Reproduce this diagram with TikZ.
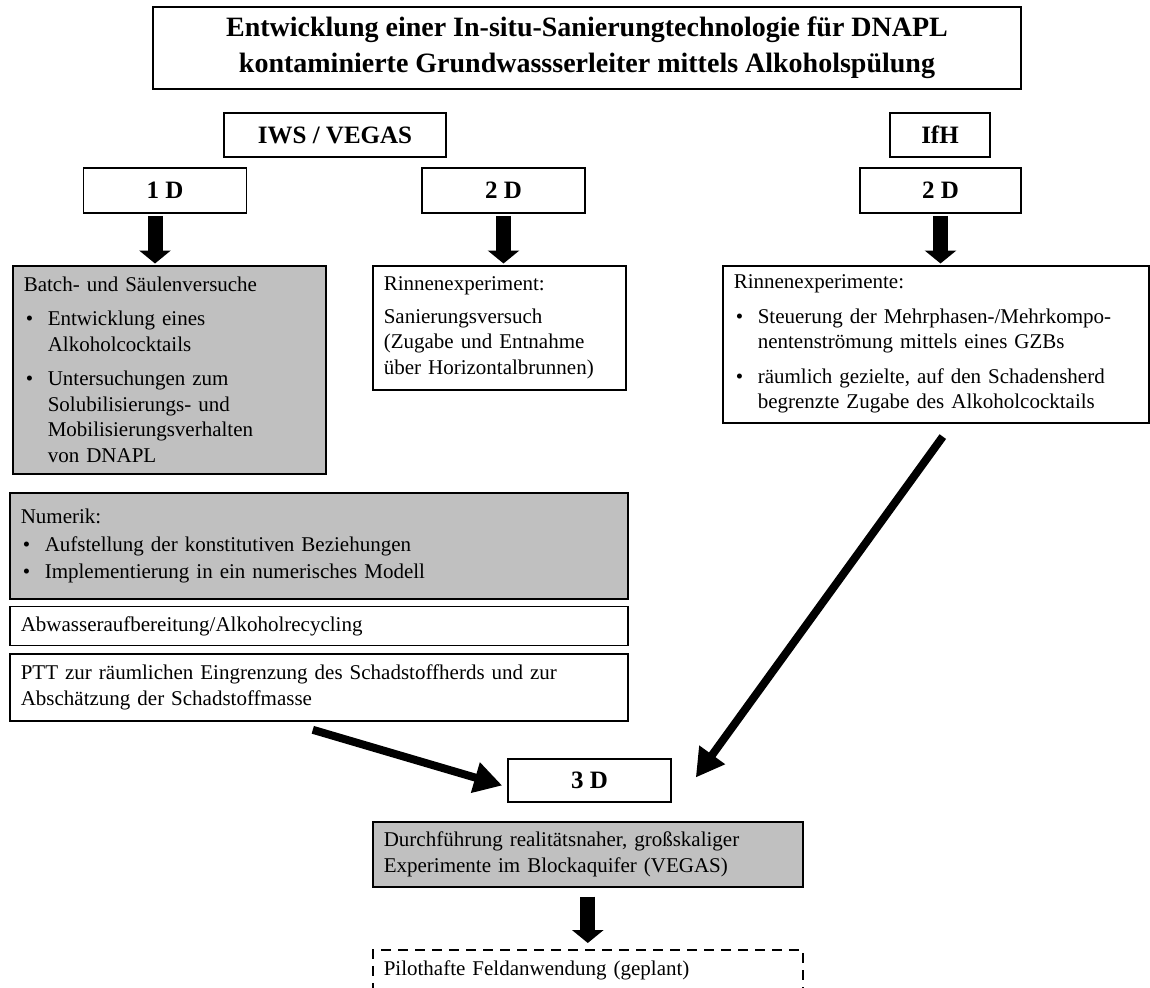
\documentclass[tikz,border=0pt]{standalone}
\usepackage{fontspec}
\setmainfont{Liberation Serif}
\usepackage{tikz}
\usetikzlibrary{positioning, arrows.meta}
\definecolor{boxgray}{HTML}{C0C0C0}

\newcommand{\punkt}[2][9pt]{\par\vspace{#1}\hangindent=24pt\hangafter=1\makebox[24pt][l]{\hspace{2pt}\textbullet}#2\par}

\begin{document}
\begin{tikzpicture}[
  x=1pt, y=-1pt,
  box/.style={draw, line width=1.6pt, inner sep=0pt},
  head/.style={box, font=\fontsize{25}{30}\selectfont\bfseries,
    minimum width=#1, minimum height=45pt},
  info/.style={box, anchor=north west, align=left,
    font=\fontsize{21}{25.5}\selectfont, inner xsep=11pt,
    text width=#1-22pt, minimum width=#1},
  grau/.style={fill=boxgray},
  pfeil/.style={line width=15pt, -{Triangle[width=31pt,length=13pt]}},
  schub/.style={line width=8pt, -{Triangle[width=30pt,length=28pt]}},
]
\useasboundingbox (0,0) rectangle (1150,987);

% Titel
\node[box, minimum width=868pt, minimum height=82pt, align=center,
  font=\fontsize{28}{36}\selectfont\bfseries] (titel) at (587,48) {
  Entwicklung einer In-situ-Sanierungtechnologie für DNAPL\\
  kontaminierte Grundwassserleiter mittels Alkoholspülung
};

% Institute
\node[head=222pt, minimum height=44pt] (iws) at (335,135) {IWS / VEGAS};
\node[head=100pt, minimum height=44pt] (ifh) at (940,135) {IfH};

% Dimensionen
\node[head=163pt] (d1) at (165,190.5) {1 D};
\node[head=163pt] (d2) at (503.5,190.5) {2 D};
\node[head=161pt] (d2r) at (940.5,190.5) {2 D};

% 1 D
\node[info=313pt, grau, minimum height=208pt] (batch) at (12,265) {
  Batch- und Säulenversuche
  \punkt{Entwicklung eines\newline Alkoholcocktails}
  \punkt{Untersuchungen zum\newline Solubilisierungs- und\newline
    Mobilisierungsverhalten\newline von DNAPL}
};

% 2 D IWS
\node[info=253pt, minimum height=124pt] (rinne) at (372,265) {
  Rinnenexperiment:\par\vspace{7pt}
  Sanierungsversuch\\(Zugabe und Entnahme\\über Horizontalbrunnen)
};

% 2 D IfH
\node[info=426pt, minimum height=157pt] (rinnen) at (722,265) {
  Rinnenexperimente:
  \punkt{Steuerung der Mehrphasen-/Mehrkompo-\newline nentenströmung mittels eines GZBs}
  \punkt{räumlich gezielte, auf den Schadensherd\newline begrenzte Zugabe des Alkoholcocktails}
};

% Numerik, Abwasser, PTT
\node[info=618pt, grau, minimum height=106pt] (numerik) at (9,492) {
  Numerik:
  \punkt[3pt]{Aufstellung der konstitutiven Beziehungen}
  \punkt[1pt]{Implementierung in ein numerisches Modell}
};
\node[info=618pt, minimum height=39pt, below=6pt of numerik.south west,
  anchor=north west] (abwasser) {Abwasseraufbereitung/Alkoholrecycling};
\node[info=618pt, minimum height=67pt, below=7pt of abwasser.south west,
  anchor=north west] (ptt) {
  PTT zur räumlichen Eingrenzung des Schadstoffherds und zur\\
  Abschätzung der Schadstoffmasse
};

% 3 D
\node[head=163pt, minimum height=43pt] (d3) at (589.5,780.5) {3 D};
\node[info=430pt, grau, minimum height=65pt] (block) at (372,821) {
  Durchführung realitätsnaher, großskaliger\\
  Experimente im Blockaquifer (VEGAS)
};
\node[info=430pt, minimum height=42pt, dash pattern=on 10pt off 7pt]
  (pilot) at (372,949) {Pilothafte Feldanwendung (geplant)};

% Pfeile
\draw[pfeil, shorten <=2pt, shorten >=1.5pt] ([xshift=-10pt]d1.south)
  -- ([xshift=-10pt]d1.south |- batch.north);
\draw[pfeil, shorten <=2pt, shorten >=1.5pt] (d2.south) -- (d2.south |- rinne.north);
\draw[pfeil, shorten <=2pt, shorten >=1.5pt] (d2r.south) -- (d2r.south |- rinnen.north);
\draw[schub] ([shift={(-6,8)}]ptt.south) -- ([shift={(-5,5)}]d3.west);
\draw[schub] ([shift={(7,13)}]rinnen.south) -- ([shift={(24,-3)}]d3.east);
\draw[pfeil, shorten <=9pt, shorten >=6pt] (block.south) -- (pilot.north);

\end{tikzpicture}
\end{document}
